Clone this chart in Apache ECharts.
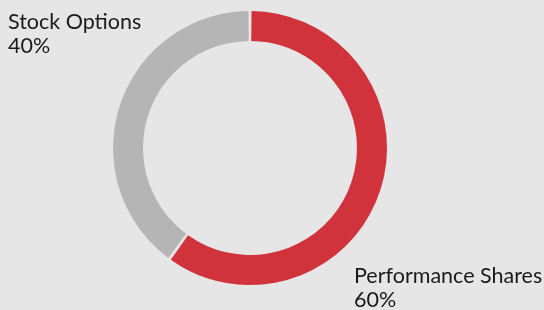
<!DOCTYPE html>
<html>
<head>
<meta charset="utf-8">
<style>
  html, body { margin: 0; padding: 0; background: #e6e6e6; }
  #chart { width: 544px; height: 310px; }
</style>
<script src="https://cdn.jsdelivr.net/npm/echarts@6/dist/echarts.min.js"></script>
</head>
<body>
<div id="chart"></div>
<script>
var categories = ['Performance Shares', 'Stock Options'];
var shares = [60, 40];
var colors = ['#d1333c', '#b5b5b5'];

var chart = echarts.init(document.getElementById('chart'));
var option = {
    backgroundColor: '#e6e6e6',
    animation: false,
    series: [
        {
            type: 'pie',
            center: [250, 148],
            radius: [107, 137],
            startAngle: 90,
            clockwise: true,
            padAngle: 1.3,
            data: categories.map(function (name, i) {
                return {name: name, value: shares[i], itemStyle: {color: colors[i]}};
            }),
            label: {
                show: true,
                formatter: '{b}\n{d}%',
                fontFamily: 'Lato',
                fontSize: 21.5,
                lineHeight: 24,
                color: '#1a1a1a',
                overflow: 'none',
                width: 300
            },
            labelLine: {show: false},
            labelLayout: function (params) {
                if (params.dataIndex === 0) {
                    return {x: 354, y: 264, align: 'left', verticalAlign: 'top'};
                }
                return {x: 8, y: 10, align: 'left', verticalAlign: 'top'};
            }
        }
    ]
};
chart.setOption(option);
window.onresize = chart.resize;
</script>
</body>
</html>
